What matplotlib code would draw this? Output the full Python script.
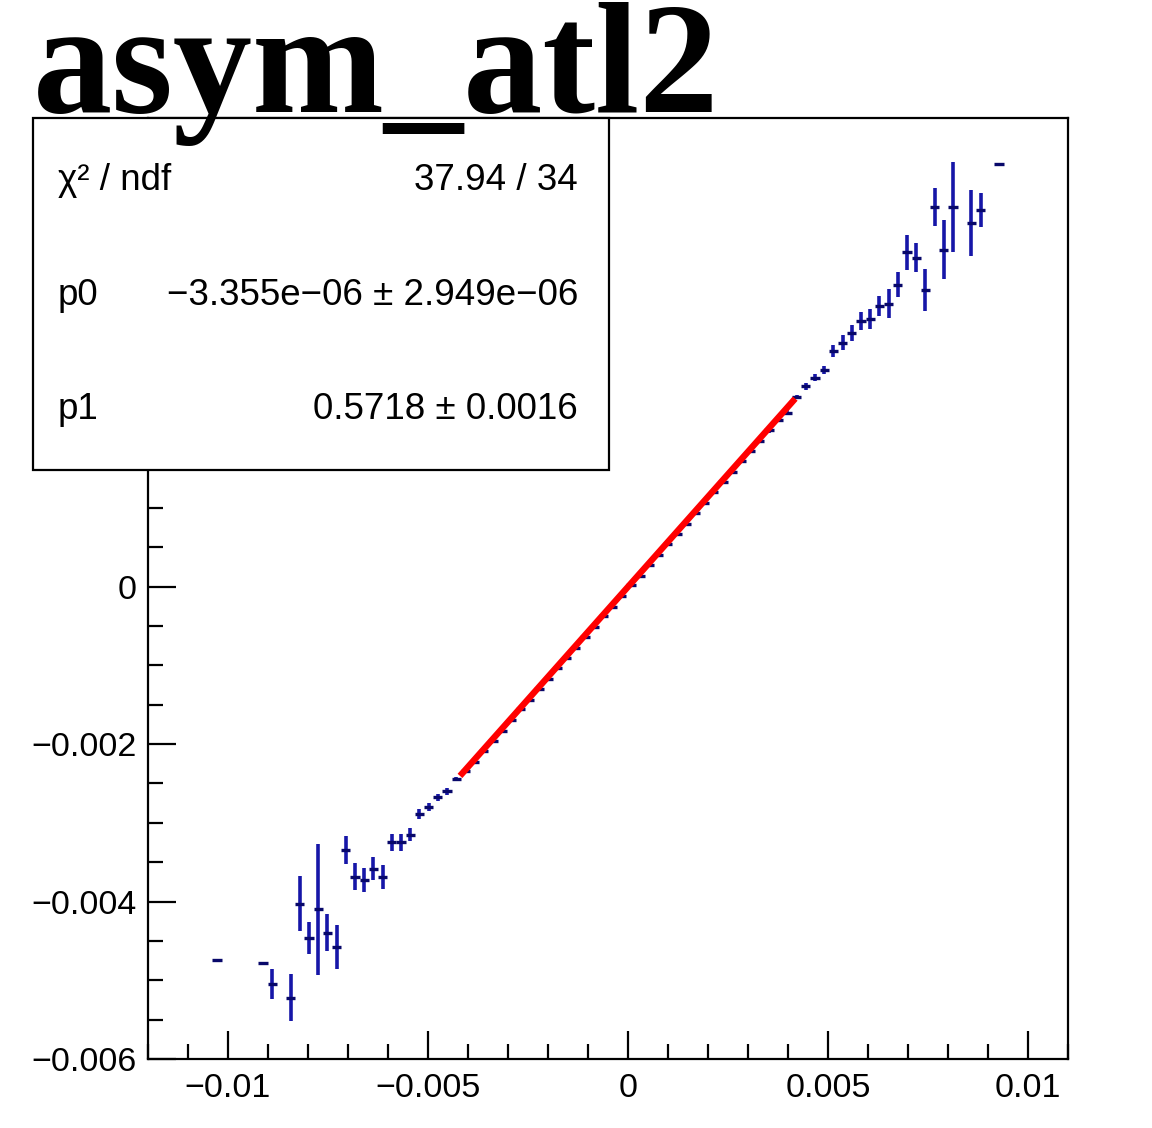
import matplotlib
matplotlib.use("Agg")
import matplotlib.pyplot as plt
from matplotlib.patches import Rectangle
from matplotlib.ticker import FixedLocator, FixedFormatter, MultipleLocator

# ---- data (TProfile-like bins) ----
x_vals = [-0.010275, -0.009125, -0.008895, -0.008435, -0.008205, -0.007975,
          -0.007745, -0.007515, -0.007285, -0.007055, -0.006825, -0.006595,
          -0.006365, -0.006135, -0.005905, -0.005675, -0.005445, -0.005215,
          -0.004985, -0.004755, -0.004525, -0.004295,
          -0.004065, -0.003835, -0.003605, -0.003375, -0.003145, -0.002915,
          -0.002685, -0.002455, -0.002225, -0.001995, -0.001765, -0.001535,
          -0.001305, -0.001075, -0.000845, -0.000615, -0.000385, -0.000155,
          0.000075, 0.000305, 0.000535, 0.000765, 0.000995, 0.001225,
          0.001455, 0.001685, 0.001915, 0.002145, 0.002375, 0.002605,
          0.002835, 0.003065, 0.003295, 0.003525, 0.003755, 0.003985,
          0.004215,
          0.004445, 0.004675, 0.004905, 0.005135, 0.005365, 0.005595,
          0.005825, 0.006055, 0.006285, 0.006515, 0.006745, 0.006975,
          0.007205, 0.007435, 0.007665, 0.007895, 0.008125, 0.008585,
          0.008815, 0.009275]

y_vals = [-0.004740, -0.004776, -0.005050, -0.005220, -0.004026, -0.004466,
          -0.004097, -0.004394, -0.004572, -0.003347, -0.003686, -0.003729,
          -0.003581, -0.003686, -0.003250, -0.003250, -0.003150, -0.002889,
          -0.002805, -0.002678, -0.002602, -0.002445,
          -0.002340, -0.002225, -0.002090, -0.001965, -0.001830, -0.001700,
          -0.001560, -0.001435, -0.001300, -0.001175, -0.001040, -0.000905,
          -0.000780, -0.000640, -0.000515, -0.000380, -0.000255, -0.000120,
          0.000015, 0.000140, 0.000275, 0.000405, 0.000540, 0.000670,
          0.000800, 0.000930, 0.001065, 0.001195, 0.001325, 0.001460,
          0.001590, 0.001725, 0.001850, 0.001985, 0.002115, 0.002210,
          0.002406,
          0.002542, 0.002653, 0.002746, 0.002987, 0.003098, 0.003220,
          0.003369, 0.003403, 0.003563, 0.003594, 0.003835, 0.004242,
          0.004178, 0.003766, 0.004822, 0.004280, 0.004822, 0.004618,
          0.004780, 0.005360]

y_errs = [0.0, 0.0, 0.00019, 0.00030, 0.00035, 0.00020,
          0.00083, 0.00024, 0.00028, 0.00018, 0.00017, 0.00015,
          0.00015, 0.00015, 0.00011, 0.00011, 0.00008, 0.00006,
          0.00005, 0.00004, 0.00004, 0.00003,
          0.00003, 0.00003, 0.00002, 0.00002, 0.00002, 0.00002,
          0.00002, 0.00002, 0.00002, 0.00002, 0.00002, 0.00002,
          0.00002, 0.00002, 0.00002, 0.00002, 0.00002, 0.00002,
          0.00002, 0.00002, 0.00002, 0.00002, 0.00002, 0.00002,
          0.00002, 0.00002, 0.00002, 0.00002, 0.00002, 0.00002,
          0.00002, 0.00002, 0.00002, 0.00003, 0.00003, 0.00003,
          0.00003,
          0.00004, 0.00004, 0.00005, 0.000076, 0.00010, 0.00010,
          0.000115, 0.000127, 0.000127, 0.00018, 0.00016, 0.00022,
          0.00018, 0.00027, 0.00024, 0.00037, 0.00057, 0.00042,
          0.00022, 0.0]

bin_half_width = 0.000115

fit_p0 = -3.355e-06
fit_p1 = 0.5718
fit_range = [-0.0042, 0.00418]

x_tick_vals = [-0.01, -0.005, 0.0, 0.005, 0.01]
x_tick_labels = ["\u22120.01", "\u22120.005", "0", "0.005", "0.01"]
# labels above 0 are hidden behind the stats box in the reference
y_tick_vals = [-0.006, -0.004, -0.002, 0.0, 0.002, 0.004]
y_tick_labels = ["\u22120.006", "\u22120.004", "\u22120.002", "0", "", ""]

title = "asym_atl2"
stats_labels = ["\u03c7\u00b2 / ndf", "p0", "p1"]
stats_values = ["37.94 / 34",
                "\u22123.355e\u221206 \u00b1 2.949e\u221206",
                "0.5718 \u00b1 0.0016"]

# ---- figure ----
plt.rcParams['font.family'] = ['Liberation Sans', 'DejaVu Sans']
W, H = 1152, 1128
fig = plt.figure(figsize=(W / 100, H / 100), dpi=100)
ax = fig.add_axes([148 / W, 1 - 1059 / H, (1068 - 148) / W, (1059 - 118) / H])

ax.set_xlim(-0.012, 0.011)
ax.set_ylim(-0.006, 0.00595)

# error bars: vertical (blue) and horizontal (dark)
ax.errorbar(x_vals, y_vals, yerr=y_errs, fmt='none', ecolor='#1616a8',
            elinewidth=2.6, capsize=0, zorder=2)
ax.errorbar(x_vals, y_vals, xerr=bin_half_width, fmt='none', ecolor='#08086a',
            elinewidth=2.4, capsize=0, zorder=3)

# fit line
fx = [fit_range[0], fit_range[1]]
fy = [fit_p0 + fit_p1 * v for v in fx]
ax.plot(fx, fy, color='#ff0000', lw=4.6, zorder=4, solid_capstyle='butt')

# axes style
for s in ax.spines.values():
    s.set_linewidth(1.6)
    s.set_color('black')
ax.xaxis.set_major_locator(FixedLocator(x_tick_vals))
ax.xaxis.set_major_formatter(FixedFormatter(x_tick_labels))
ax.xaxis.set_minor_locator(MultipleLocator(0.001))
ax.yaxis.set_major_locator(FixedLocator(y_tick_vals))
ax.yaxis.set_major_formatter(FixedFormatter(y_tick_labels))
ax.yaxis.set_minor_locator(MultipleLocator(0.0005))
ax.tick_params(axis='both', which='major', direction='in', length=20, width=1.6,
               labelsize=24.5, top=False, right=False)
ax.tick_params(axis='both', which='minor', direction='in', length=10.5, width=1.6,
               top=False, right=False)
ax.tick_params(axis='x', which='major', pad=10)
ax.tick_params(axis='y', which='major', pad=8)

# stats box (on top of axes)
box = Rectangle((33 / W, 1 - 470 / H), 576 / W, 352 / H, transform=fig.transFigure,
                facecolor='white', edgecolor='black', lw=1.6, zorder=5)
fig.add_artist(box)
row_y = [180, 295, 410]
for lab, val, yy in zip(stats_labels, stats_values, row_y):
    fig.text(58 / W, 1 - yy / H, lab, ha='left', va='center', fontsize=26.5, zorder=6)
    fig.text(578 / W, 1 - yy / H, val, ha='right', va='center', fontsize=26.5, zorder=6)

# title
fig.text(33 / W, 1 - 112 / H, title, ha='left', va='baseline', fontsize=114,
         fontweight='bold', family=['Liberation Serif', 'DejaVu Serif'], zorder=7)

fig.savefig("out.png", dpi=100, facecolor='white')
